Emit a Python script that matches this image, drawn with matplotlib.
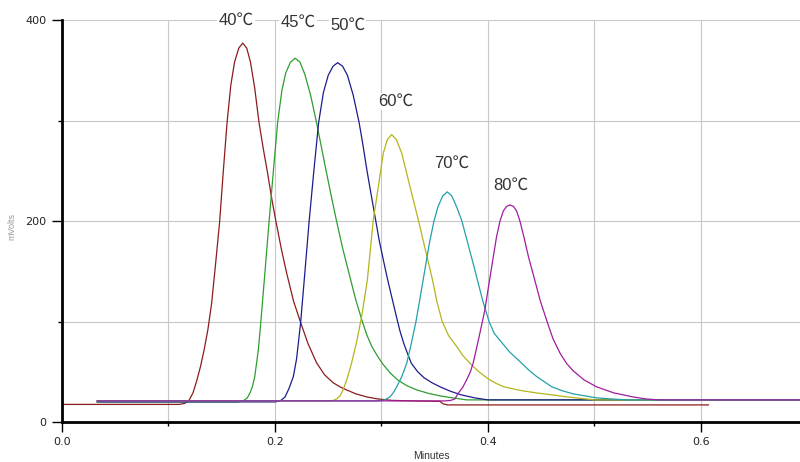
import numpy as np
import matplotlib.pyplot as plt
from matplotlib.ticker import MultipleLocator

# curves (x in minutes, y in mVolts)
x40 = [0.000, 0.110, 0.115, 0.119, 0.123, 0.1265, 0.130, 0.1335, 0.137, 0.1405, 0.144, 0.148, 0.1515,
       0.155, 0.1585, 0.162, 0.166, 0.1697, 0.1735, 0.177, 0.181, 0.185, 0.189, 0.193, 0.197, 0.201,
       0.206, 0.211, 0.2175, 0.2244, 0.231, 0.239, 0.2465, 0.2547, 0.261, 0.267, 0.276, 0.286, 0.296,
       0.310, 0.330, 0.355, 0.358, 0.362, 0.607]
y40 = [17.5, 17.5, 18.5, 21, 29, 41, 55, 72, 92, 118, 155, 199, 250,
       298, 335, 358, 372, 377, 372, 358, 332, 298, 272, 248, 222, 199,
       172, 148, 120, 98, 78, 59, 47, 39, 35, 32, 28, 25, 23,
       21.5, 21, 20.5, 18, 17, 17]

x45 = [0.033, 0.165, 0.170, 0.174, 0.177, 0.179, 0.181, 0.1825, 0.1844, 0.1866, 0.1905, 0.1944, 0.1985,
       0.2025, 0.2065, 0.210, 0.2145, 0.219, 0.2235, 0.228, 0.2335, 0.239, 0.2435, 0.248, 0.253, 0.258,
       0.2635, 0.2695, 0.2755, 0.282, 0.2865, 0.291, 0.296, 0.301, 0.308, 0.315, 0.324, 0.333, 0.344,
       0.355, 0.367, 0.380, 0.693]
y45 = [20, 20, 21, 24, 30, 36, 45, 57, 72, 98, 148, 199, 250,
       298, 330, 347, 358, 362, 358, 346, 325, 298, 274, 250, 224, 199,
       173, 148, 123, 100, 86, 75, 66, 58, 49, 42, 36, 32, 28.5,
       26, 24, 22, 22]

x50 = [0.033, 0.200, 0.205, 0.2095, 0.213, 0.2172, 0.2203, 0.224, 0.228, 0.232, 0.2365, 0.241, 0.2455,
       0.250, 0.2545, 0.2588, 0.2635, 0.268, 0.2735, 0.279, 0.2827, 0.2864, 0.2905, 0.2945, 0.298, 0.302,
       0.3057, 0.3095, 0.314, 0.3175, 0.321, 0.3245, 0.328, 0.334, 0.340, 0.3475, 0.355, 0.365, 0.375,
       0.3875, 0.400, 0.693]
y50 = [20, 20, 21, 25, 33, 45, 63, 98, 148, 199, 250, 298, 328,
       345, 354, 357.5, 354, 345, 325, 298, 275, 250, 225, 201, 180, 160,
       142, 125, 105, 90, 78, 68, 58.5, 50, 44, 39, 35, 30.5, 27,
       24, 22, 22]

x60 = [0.033, 0.250, 0.255, 0.258, 0.261, 0.264, 0.268, 0.272, 0.2767, 0.2814, 0.2867, 0.2923, 0.297,
       0.3017, 0.3055, 0.3095, 0.314, 0.319, 0.3268, 0.3346, 0.348, 0.352, 0.357, 0.363, 0.370, 0.3765,
       0.383, 0.3915, 0.400, 0.4075, 0.415, 0.430, 0.445, 0.460, 0.474, 0.487, 0.500, 0.693]
y60 = [21, 21, 21.5, 23, 26, 32, 44, 59, 80, 105, 141, 201, 234,
       267.5, 281, 286, 281, 267.5, 234, 201, 141, 120, 100, 86, 76, 66,
       58.5, 50, 43, 38.5, 35, 31.5, 29, 27, 25, 23.5, 22, 22]

x70 = [0.033, 0.295, 0.300, 0.303, 0.308, 0.311, 0.3143, 0.319, 0.3237, 0.328, 0.3324, 0.3365, 0.3405,
       0.345, 0.3493, 0.353, 0.3575, 0.3618, 0.366, 0.3706, 0.3755, 0.381, 0.387, 0.395, 0.401, 0.406,
       0.411, 0.420, 0.4316, 0.439, 0.446, 0.453, 0.460, 0.470, 0.480, 0.491, 0.502, 0.515, 0.530, 0.693]
y70 = [21, 21, 21.5, 22, 25, 29, 35, 45, 58.5, 78, 100, 125, 150,
       178, 200, 214, 225, 229, 225, 214, 200, 178, 154, 121, 100, 88,
       81.6, 70, 58.5, 51, 45, 40, 35, 31, 28, 26, 24, 23, 22, 22]

x80 = [0.033, 0.360, 0.365, 0.369, 0.372, 0.376, 0.380, 0.3835, 0.3862, 0.3915, 0.397, 0.401, 0.405,
       0.408, 0.4113, 0.4144, 0.4175, 0.4207, 0.424, 0.4269, 0.430, 0.434, 0.438, 0.4435, 0.449, 0.455,
       0.461, 0.4676, 0.474, 0.480, 0.490, 0.502, 0.518, 0.536, 0.548, 0.560, 0.693]
y80 = [21, 21, 21.5, 23, 28.6, 34, 42, 50, 59, 84, 111, 138, 164.5,
       184, 200, 210, 214.5, 216, 214.5, 210, 200, 183, 164.5, 143, 121, 101.5,
       83, 68.6, 58, 51, 42, 35, 29, 25, 23, 22, 22]

labels = ['40℃', '45℃', '50℃', '60℃', '70℃', '80℃']
label_x = [0.1631, 0.2216, 0.2681, 0.3131, 0.3657, 0.4216]
label_y = [399.8, 398, 395, 318.8, 257.7, 235.8]
colors = ['#8c1c1c', '#2e9e2e', '#1c1c8c', '#b4b41c', '#24a0a8', '#a01ca0']

curves = [(x40, y40), (x45, y45), (x50, y50), (x60, y60), (x70, y70), (x80, y80)]

fig = plt.figure(figsize=(8, 4.62), dpi=100)
ax = fig.add_axes([62/800, 40/462, 1 - 62/800, 402/462])

for (xs, ys), c in zip(curves, colors):
    ax.plot(xs, ys, color=c, lw=0.9)

for t, lx, ly in zip(labels, label_x, label_y):
    ax.text(lx, ly, t, ha='center', va='center', fontsize=12, color='#333333',
            family=['Liberation Sans', 'Noto Sans CJK SC', 'DejaVu Sans'],
            bbox=dict(facecolor='white', edgecolor='none', pad=1))

ax.set_xlim(0, 0.693)
ax.set_ylim(0, 400)
ax.xaxis.set_major_locator(MultipleLocator(0.2))
ax.xaxis.set_minor_locator(MultipleLocator(0.1))
ax.yaxis.set_major_locator(MultipleLocator(200))
ax.yaxis.set_minor_locator(MultipleLocator(100))
ax.xaxis.set_major_formatter(plt.FormatStrFormatter('%.1f'))
ax.grid(True, which='both', color='#c8c8c8', lw=0.8)
ax.set_axisbelow(True)
for s in ['top', 'right']:
    ax.spines[s].set_visible(False)
for s in ['left', 'bottom']:
    ax.spines[s].set_linewidth(2)
ax.tick_params(which='major', length=7, width=1, labelsize=8, labelcolor='#222222', pad=4)
ax.tick_params(which='minor', length=3, width=1)

fig.text(431/800, 0.003, 'Minutes', ha='center', va='bottom', fontsize=7.5,
         color='#333333', family='Liberation Sans')
fig.text(12/800, 1 - 226/462, 'mVolts', ha='center', va='center', rotation=90,
         fontsize=6.5, color='#999999', family='Liberation Sans')

fig.savefig('out.png', dpi=100)
